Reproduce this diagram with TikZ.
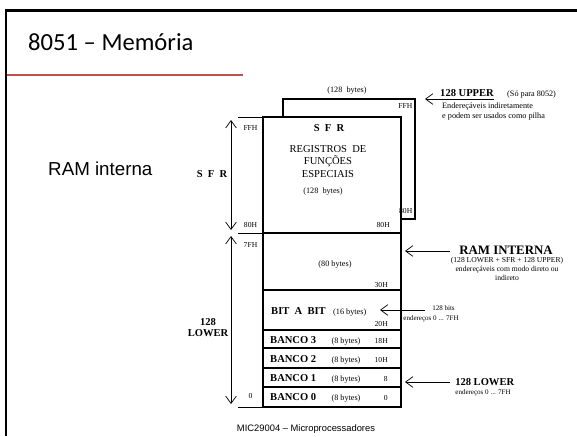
\documentclass[tikz,border=0pt]{standalone}
\usepackage{fontspec}
\setmainfont{Liberation Serif}
\newfontfamily\slidefont{Carlito}
\newfontfamily\armfont{Liberation Sans}
\usetikzlibrary{arrows.meta}
\definecolor{slidered}{RGB}{192,80,77}
\tikzset{
  frame/.style={line width=2.1pt},
  blk/.style={line width=2.4pt},
  sep/.style={line width=1.4pt},
  tick/.style={line width=0.6pt},
  dim/.style={line width=0.6pt,{Straight Barb[length=2.2mm,width=3.2mm]}-{Straight Barb[length=2.2mm,width=3.2mm]}},
  arr/.style={line width=0.6pt,{Straight Barb[length=2.2mm,width=3.2mm]}-},
  adr/.style={font=\fontsize{6.5}{7}\selectfont,inner sep=0pt},
  sml/.style={font=\fontsize{7}{8}\selectfont,inner sep=0pt},
  lbl/.style={font=\fontsize{9}{9.4}\selectfont\bfseries,inner sep=0pt,align=center},
  note/.style={font=\fontsize{6.5}{7.7}\selectfont,inner sep=0pt,align=center},
  fine/.style={font=\fontsize{6}{7}\selectfont,inner sep=0pt}
}
\begin{document}
\begin{tikzpicture}[x=0.03cm,y=-0.03cm]
\useasboundingbox (0,0) rectangle (577,436);
\draw[frame] (6,436) -- (6,10.5) -- (577,10.5);
\draw[slidered,line width=0.9pt] (7,75) -- (243,75);
\node[anchor=base west,inner sep=0pt,font=\slidefont\fontsize{21}{24}\selectfont] (title) at (28,50) {8051 – Memória};
\node[anchor=base west,inner sep=0pt,font=\armfont\fontsize{16}{18}\selectfont] (ramlbl) at (48,175) {RAM interna};
\node[anchor=base,inner sep=0pt,font=\armfont\fontsize{8}{9}\selectfont] (foot) at (306,431) {MIC29004 – Microprocessadores};

\draw[blk] (283,99) rectangle (415,219);
\draw[blk,fill=white] (263,117) rectangle (401,233);
\draw[blk] (263,233) rectangle (401,407);
\foreach \y in {290,330,348,368,387} \draw[sep] (263,\y) -- (401,\y);

\foreach \y in {117,233,407} \draw[tick] (238,\y) -- (263,\y);
\coordinate (sfrT) at (231,120);
\coordinate (sfrB) at (231,230);
\coordinate (lowT) at (231,236);
\coordinate (lowB) at (231,404);
\draw[dim] (sfrT) -- (sfrB);
\draw[dim] (lowT) -- (lowB);
\node[lbl,anchor=base] (sfrdim) at (212,177) {S~~F~~R};
\node[lbl,anchor=north] (lowdim) at (208,318) {128\\LOWER};
\foreach \t/\y in {FFH/130,80H/227,7FH/247,0/398}
  \node[adr,anchor=base] (l\t) at (250.5,\y) {\t};

\node[sml,anchor=base] (upsz) at (347,92) {(128~~bytes)};
\node[adr,anchor=base east] (upFFH) at (412.5,108) {FFH};
\node[adr,anchor=base east] (up80H) at (412.5,213) {80H};

\node[lbl,anchor=base] (sfrttl) at (329,131) {S~~F~~R};
\node[anchor=north,inner sep=0pt,align=center,font=\fontsize{9}{10.7}\selectfont] (sfrtxt) at (328,145) {REGISTROS~~DE\\FUNÇÕES\\ESPECIAIS};
\node[sml,anchor=base] (sfrsz) at (323,193) {(128~~bytes)};
\node[adr,anchor=base east] (sfr80) at (390,227) {80H};

\node[sml,anchor=base] (sz80) at (335,266) {(80 bytes)};
\node[adr,anchor=base east] (a30) at (388,287) {30H};
\node[lbl,anchor=base west] (bit) at (271,314) {BIT~~A~~BIT};
\node[sml,anchor=base west] (bitsz) at (333,314) {(16 bytes)};
\node[adr,anchor=base east] (a20) at (388,326) {20H};
\foreach \n/\y/\a in {3/343/18H,2/362/10H,1/381/8,0/400/0}{
  \node[lbl,anchor=base west] (bn\n) at (270,\y) {BANCO \n};
  \node[sml,anchor=base] (bs\n) at (346,\y) {(8 bytes)};
  \node[adr,anchor=base east] (ba\n) at (388,\y) {\a};
}

\coordinate (uTip) at (425,99);
\node[lbl,anchor=base west] (upper) at (440,96) {128 UPPER};
\draw[arr] (uTip) -- (uTip -| upper.east);
\node[sml,anchor=base west] (only) at (507,96) {(Só para 8052)};
\node[sml,anchor=north west,align=left,font=\fontsize{7}{8.5}\selectfont] (upnote) at (442,102.5) {Endereçáveis indiretamente\\e podem ser usados como pilha};

\coordinate (rTip) at (405,251);
\node[lbl,font=\fontsize{11}{12}\selectfont\bfseries,inner xsep=7.7pt,anchor=base west] (ramint) at (450,254) {RAM INTERNA};
\draw[arr] (rTip) -- (rTip -| ramint.west);
\node[note,anchor=north] (ramnote) at (507,257) {(128 LOWER + SFR + 128 UPPER)\\endereçáveis com modo direto ou\\indireto};

\coordinate (bTip) at (380,310);
\node[fine,inner xsep=6pt,anchor=base west] (bits) at (425,310) {128 bits};
\draw[arr] (bTip) -- (bits.base west);
\node[fine,anchor=base] (bitadr) at (431,320) {endereços 0 ... 7FH};

\coordinate (lTip) at (405,382);
\node[lbl,inner xsep=4.3pt,anchor=base west] (lower) at (450,385) {128 LOWER};
\draw[arr] (lTip) -- (lTip -| lower.west);
\node[fine,anchor=base] (lowadr) at (483,394) {endereços 0 ... 7FH};
\end{tikzpicture}
\end{document}
